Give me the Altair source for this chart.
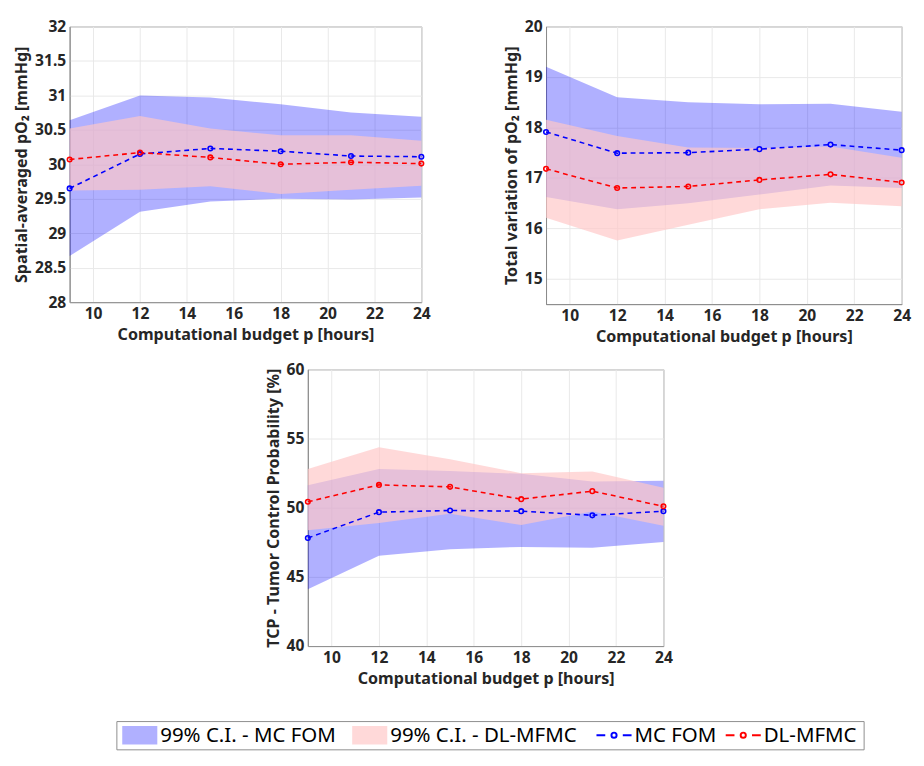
import altair as alt
import pandas as pd

hours = [9, 12, 15, 18, 21, 24]

S_BAND_MC = "99% C.I. - MC FOM"
S_BAND_DL = "99% C.I. - DL-MFMC"
S_MC = "MC FOM"
S_DL = "DL-MFMC"
series_order = [S_BAND_MC, S_BAND_DL, S_MC, S_DL]
series_kind = ["band", "band", "line", "line"]

# Panel 1: spatial-averaged pO2
p1_mc = [29.65, 30.15, 30.23, 30.19, 30.12, 30.11]
p1_dl = [30.07, 30.17, 30.10, 30.00, 30.03, 30.01]
p1_mc_lo = [28.67, 29.31, 29.46, 29.50, 29.49, 29.52]
p1_mc_hi = [30.64, 31.00, 30.97, 30.87, 30.75, 30.69]
p1_dl_lo = [29.62, 29.63, 29.68, 29.57, 29.63, 29.69]
p1_dl_hi = [30.52, 30.70, 30.52, 30.42, 30.42, 30.34]

# Panel 2: total variation of pO2
p2_mc = [17.91, 17.49, 17.50, 17.57, 17.66, 17.55]
p2_dl = [17.18, 16.80, 16.83, 16.96, 17.07, 16.91]
p2_mc_lo = [16.62, 16.38, 16.50, 16.67, 16.85, 16.80]
p2_mc_hi = [19.20, 18.60, 18.50, 18.46, 18.47, 18.31]
p2_dl_lo = [16.21, 15.76, 16.07, 16.38, 16.51, 16.44]
p2_dl_hi = [18.15, 17.83, 17.60, 17.59, 17.62, 17.40]

# Panel 3: TCP
p3_mc = [47.81, 49.68, 49.80, 49.75, 49.45, 49.75]
p3_dl = [50.43, 51.65, 51.51, 50.62, 51.20, 50.10]
p3_mc_lo = [44.10, 46.52, 46.99, 47.17, 47.10, 47.53]
p3_mc_hi = [51.63, 52.80, 52.65, 52.45, 51.90, 51.95]
p3_dl_lo = [48.37, 48.89, 49.57, 48.75, 49.73, 48.70]
p3_dl_hi = [52.80, 54.37, 53.50, 52.50, 52.61, 51.44]

x_ticks = [10, 12, 14, 16, 18, 20, 22, 24]
x_title = "Computational budget p [hours]"

FONT = "Noto Sans"
LEG_FONT = 21
LEG_W = 767
LEG_H = 29

color_scale = alt.Scale(domain=series_order,
                        range=["#0000ff", "#ffc7c7", "#0000ff", "#ff0000"])
color = alt.Color("series:N", scale=color_scale, legend=None)


def panel(mc, dl, mc_lo, mc_hi, dl_lo, dl_hi, ydomain, yticks, ytitle, w, h):
    bands_mc = pd.DataFrame({"x": hours, "lo": mc_lo, "hi": mc_hi, "series": S_BAND_MC})
    bands_dl = pd.DataFrame({"x": hours, "lo": dl_lo, "hi": dl_hi, "series": S_BAND_DL})
    lines = pd.DataFrame({
        "x": hours * 2,
        "y": mc + dl,
        "series": [S_MC] * len(hours) + [S_DL] * len(hours),
    })
    xenc = alt.X(
        "x:Q",
        scale=alt.Scale(domain=[9, 24], nice=False),
        axis=alt.Axis(values=x_ticks, title=x_title, format="d", labelFlush=False),
    )
    yscale = alt.Scale(domain=ydomain, nice=False, zero=False)
    yaxis = alt.Axis(values=yticks, title=ytitle, format="~g")

    a_mc = alt.Chart(bands_mc).mark_area(opacity=0.31).encode(
        x=xenc, y=alt.Y("lo:Q", scale=yscale, axis=yaxis), y2="hi:Q", color=color
    )
    a_dl = alt.Chart(bands_dl).mark_area(opacity=0.68).encode(
        x=xenc, y=alt.Y("lo:Q", scale=yscale, axis=yaxis), y2="hi:Q", color=color
    )
    ln = alt.Chart(lines).mark_line(strokeDash=[5, 4], strokeWidth=1.6).encode(
        x=xenc, y=alt.Y("y:Q", scale=yscale, axis=yaxis), color=color, detail="series:N"
    )
    pt = alt.Chart(lines).mark_point(filled=False, size=22, strokeWidth=1.6, opacity=1, shape="circle").encode(
        x=xenc, y=alt.Y("y:Q", scale=yscale, axis=yaxis), color=color
    )
    return alt.layer(a_mc, a_dl, ln, pt).properties(width=w, height=h)


c1 = panel(p1_mc, p1_dl, p1_mc_lo, p1_mc_hi, p1_dl_lo, p1_dl_hi, [28, 32],
           [28, 28.5, 29, 29.5, 30, 30.5, 31, 31.5, 32], "Spatial-averaged pO₂ [mmHg]", 361, 283)
c2 = panel(p2_mc, p2_dl, p2_mc_lo, p2_mc_hi, p2_dl_lo, p2_dl_hi, [14.5, 20],
           [15, 16, 17, 18, 19, 20], "Total variation of pO₂ [mmHg]", 365, 285)
c3 = panel(p3_mc, p3_dl, p3_mc_lo, p3_mc_hi, p3_dl_lo, p3_dl_hi, [40, 60],
           [40, 45, 50, 55, 60], "TCP - Tumor Control Probability [%]", 365, 284)

# ---- legend row (drawn with marks; entry widths estimated from label text) ----
legend_df = pd.DataFrame({"series": series_order, "kind": series_kind,
                          "order": list(range(len(series_order)))})

n_upper = "length(replace(datum.series, regexp('[^A-Z]', 'g'), ''))"
n_digit = "length(replace(datum.series, regexp('[^0-9]', 'g'), ''))"
n_other = "length(replace(datum.series, regexp('[A-Z0-9]', 'g'), ''))"

leg_base = alt.Chart(legend_df).transform_calculate(
    tw=f"{LEG_FONT} * (0.70 * {n_upper} + 0.572 * {n_digit} + 0.34 * {n_other})",
).transform_calculate(
    w="datum.tw + 36 + 4 + 12",
).transform_window(
    cum="sum(w)", sort=[alt.SortField("order")]
).transform_calculate(
    s="datum.cum - datum.w + 6",
    s2="datum.cum - datum.w + 42",
    mid="datum.cum - datum.w + 24",
    tx="datum.cum - datum.w + 45",
)

lx = alt.Scale(domain=[0, LEG_W], nice=False, zero=False)

leg_rect_mc = leg_base.transform_filter(f"datum.series == '{S_BAND_MC}'").mark_rect(opacity=0.31).encode(
    x=alt.X("s:Q", scale=lx, axis=None), x2="s2:Q",
    y=alt.value(5), y2=alt.value(24), color=color,
)
leg_rect_dl = leg_base.transform_filter(f"datum.series == '{S_BAND_DL}'").mark_rect(opacity=0.68).encode(
    x=alt.X("s:Q", scale=lx, axis=None), x2="s2:Q",
    y=alt.value(5), y2=alt.value(24), color=color,
)
leg_dash = leg_base.transform_filter("datum.kind == 'line'").mark_rule(
    strokeDash=[9, 18], strokeWidth=2
).encode(
    x=alt.X("s:Q", scale=lx, axis=None), x2="s2:Q", y=alt.value(14.5), color=color,
)
leg_circ = leg_base.transform_filter("datum.kind == 'line'").mark_point(
    filled=False, shape="circle", size=28, strokeWidth=2, opacity=1
).encode(
    x=alt.X("mid:Q", scale=lx, axis=None), y=alt.value(14.5), color=color,
)
leg_text = leg_base.mark_text(
    align="left", baseline="middle", font=FONT, fontSize=LEG_FONT, color="black"
).encode(
    x=alt.X("tx:Q", scale=lx, axis=None), y=alt.value(15), text="series:N",
)
legend_row = alt.layer(leg_rect_mc, leg_rect_dl, leg_dash, leg_circ, leg_text).properties(
    width=LEG_W, height=LEG_H)

top = alt.hconcat(c1, c2, spacing=74)
plots = alt.vconcat(top, c3, spacing=16, center=True)
chart = alt.vconcat(plots, legend_row, spacing=34, center=True).properties(
    padding={"left": 5, "top": 0, "right": 5, "bottom": 0})

chart = chart.configure(font=FONT).configure_view(
    stroke="#8c8c8c", strokeWidth=1
).configure_axis(
    labelFont=FONT,
    labelFontSize=16,
    labelFontWeight="bold",
    labelColor="#262626",
    titleFont=FONT,
    titleFontSize=16.5,
    titleFontWeight="bold",
    titleColor="#262626",
    gridColor="#e8e8e8",
    gridWidth=1,
    domainColor="#8c8c8c",
    ticks=False,
    labelPadding=4,
    titlePadding=5,
).configure_axisY(titlePadding=5)

chart.save("out.html", embed_options={"renderer": "svg", "actions": False})
